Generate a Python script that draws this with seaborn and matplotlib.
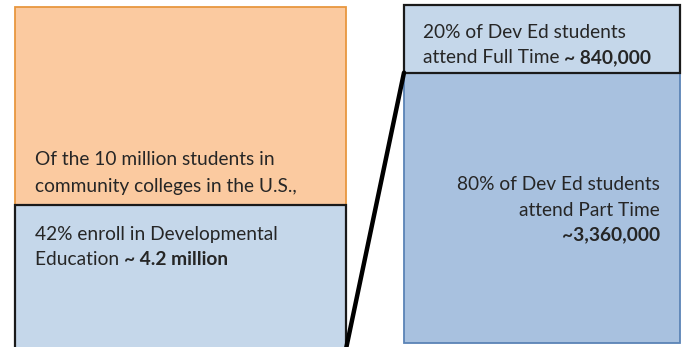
import matplotlib
matplotlib.use("Agg")
import matplotlib.pyplot as plt
import seaborn as sns
import pandas as pd
from matplotlib.patches import ConnectionPatch

# ---- data (percent) ----
left_segments = ["Not in Developmental Education", "Developmental Education"]
left_values = [58, 42]          # % of 10 million community college students
right_segments = ["Part Time", "Full Time"]
right_values = [80, 20]         # % of Dev Ed students

sns.set_theme(style="white")
plt.rcParams["font.family"] = ["Lato", "DejaVu Sans"]

W, H = 686, 347
fig = plt.figure(figsize=(W / 100, H / 100), dpi=100)


def px_axes(x0, y0, x1, y1):
    return fig.add_axes([x0 / W, 1 - y1 / H, (x1 - x0) / W, (y1 - y0) / H])


ORANGE = "#FBCAA0"
ORANGE_EDGE = "#E8973F"
LIGHT_BLUE = "#C5D7EA"
DARK_BLUE = "#A8C1DF"
DARK_BLUE_EDGE = "#5B84B6"
TEXT = "#262626"

# ---- left stacked bar ----
ax_l = px_axes(15, 7, 346, 349)
left_df = pd.DataFrame({"bar": ["all", "all"], "segment": left_segments, "value": left_values})
notd = left_df.iloc[0]["value"]
devd = left_df.iloc[1]["value"]
sns.barplot(x=["all"], y=[notd], bottom=devd, color=ORANGE, edgecolor=ORANGE_EDGE,
            linewidth=1.3, width=1.0, saturation=1, ax=ax_l, clip_on=False)
sns.barplot(x=["all"], y=[devd], color=LIGHT_BLUE, edgecolor="#1a1a1a",
            linewidth=1.6, width=1.0, saturation=1, ax=ax_l, clip_on=False)
ax_l.set_xlim(-0.5, 0.5)
ax_l.set_ylim(0, 100)

# ---- right stacked bar ----
ax_r = px_axes(404, 5, 680, 343)
pt, ft = right_values
sns.barplot(x=["dev"], y=[pt], color=DARK_BLUE, edgecolor=DARK_BLUE_EDGE,
            linewidth=1.3, width=1.0, saturation=1, ax=ax_r, clip_on=False)
sns.barplot(x=["dev"], y=[ft], bottom=pt, color=LIGHT_BLUE, edgecolor="#1a1a1a",
            linewidth=1.6, width=1.0, saturation=1, ax=ax_r, clip_on=False)
ax_r.set_xlim(-0.5, 0.5)
ax_r.set_ylim(0, 100)

for ax in (ax_l, ax_r):
    ax.set_axis_off()

# connector line
con = ConnectionPatch(xyA=(-0.5, pt), coordsA=ax_r.transData,
                      xyB=(0.5, 0), coordsB=ax_l.transData,
                      color="black", linewidth=3.2, zorder=10)
fig.add_artist(con)

FS = 13.8


def ftext(x, y, s, **kw):
    kw.setdefault("fontsize", FS)
    kw.setdefault("color", TEXT)
    kw.setdefault("va", "baseline")
    return fig.text(x / W, 1 - y / H, s, **kw)


def mixed(x, y, normal, bold):
    t = ftext(x, y, normal)
    fig.canvas.draw()
    bb = t.get_window_extent()
    ftext(bb.x1 * W / fig.bbox.width, y, bold, fontweight="bold")


ftext(35, 165, "Of the 10 million students in")
ftext(35, 192, "community colleges in the U.S.,")
ftext(35, 240, "42% enroll in Developmental")
mixed(35, 265, "Education ", "~ 4.2 million")

ftext(423, 38, "20% of Dev Ed students")
mixed(423, 63, "attend Full Time ", "~ 840,000")

ftext(660, 190, "80% of Dev Ed students", ha="right")
ftext(660, 216, "attend Part Time", ha="right")
ftext(660, 240, "~3,360,000", ha="right", fontweight="bold")

fig.savefig("out.png", dpi=100)
